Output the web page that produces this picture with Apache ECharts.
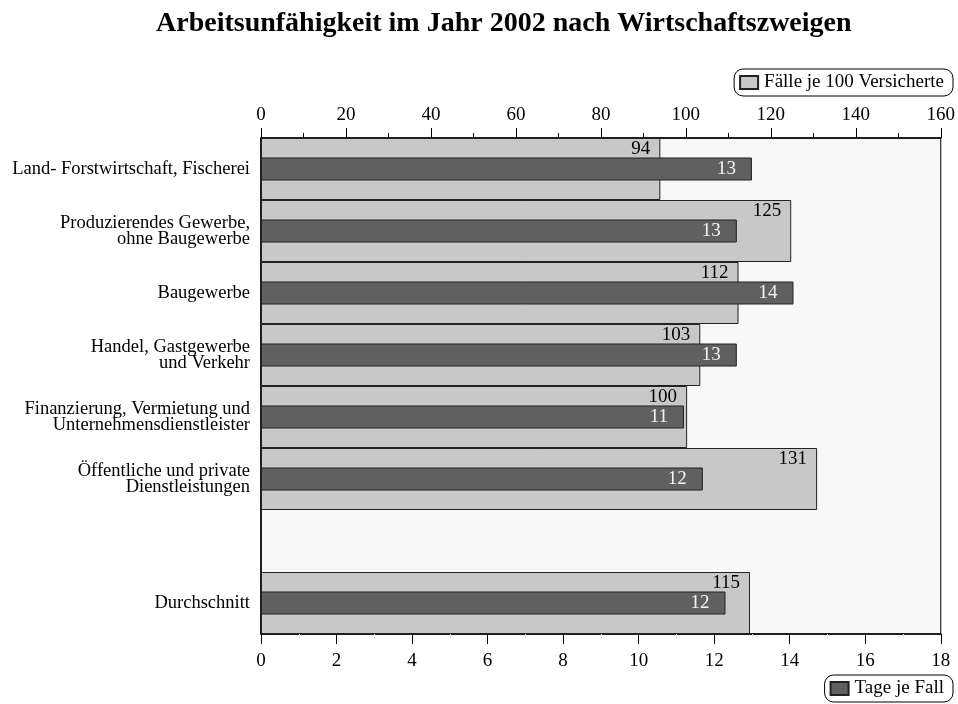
<!DOCTYPE html>
<html>
<head>
<meta charset="utf-8">
<script src="https://cdn.jsdelivr.net/npm/echarts@6/dist/echarts.min.js"></script>
<style>
  html, body { margin: 0; padding: 0; background: #fff; }
  #main { width: 958px; height: 704px; }
</style>
</head>
<body>
<div id="main"></div>
<script>
// Wirtschaftszweige (leere Zeile = Abstand vor Durchschnitt)
var categories = [
    'Land- Forstwirtschaft, Fischerei',
    'Produzierendes Gewerbe,\nohne Baugewerbe',
    'Baugewerbe',
    'Handel, Gastgewerbe\nund Verkehr',
    'Finanzierung, Vermietung und\nUnternehmensdienstleister',
    'Öffentliche und private\nDienstleistungen',
    '',
    'Durchschnitt'
];
// Fälle je 100 Versicherte (obere Achse)
var faelle = [94.0, 124.8, 112.4, 103.4, 100.3, 130.9, null, 115.1];
// Tage je Fall (untere Achse)
var tage = [13.0, 12.6, 14.1, 12.6, 11.2, 11.7, null, 12.3];

var topTicks = { min: 0, max: 160, interval: 20 };
var bottomTicks = { min: 0, max: 18, interval: 2 };

var fontFam = '"Liberation Serif", "DejaVu Serif", serif';

function legendBox(name, top) {
    return {
        data: [name],
        right: 5,
        top: top,
        icon: 'rect',
        itemWidth: 18,
        itemHeight: 13,
        itemGap: 5,
        padding: [4, 9, 4, 5],
        borderColor: '#000',
        borderWidth: 1,
        borderRadius: 9,
        textStyle: { fontFamily: fontFam, fontSize: 19, color: '#000', padding: [0, 0, 0, 1] },
        selectedMode: false
    };
}

var option = {
    backgroundColor: '#fff',
    textStyle: { fontFamily: fontFam },
    title: {
        text: 'Arbeitsunfähigkeit im Jahr 2002 nach Wirtschaftszweigen',
        left: 151,
        top: 5,
        textStyle: { fontFamily: fontFam, fontSize: 28, fontWeight: 'bold', color: '#000' }
    },
    legend: [
        legendBox('Fälle je 100 Versicherte', 69),
        legendBox('Tage je Fall', 675)
    ],
    grid: {
        left: 261,
        right: 16,
        top: 138,
        bottom: 70,
        show: true,
        backgroundColor: '#f8f8f8',
        borderColor: '#000',
        borderWidth: 1
    },
    xAxis: [
        {
            type: 'value',
            position: 'top',
            min: topTicks.min,
            max: topTicks.max,
            interval: topTicks.interval,
            axisLine: { show: true, lineStyle: { color: '#000', width: 1.5 } },
            axisTick: { show: true, length: 10, lineStyle: { color: '#000' } },
            minorTick: { show: true, splitNumber: 2, length: 5, lineStyle: { color: '#000' } },
            axisLabel: { fontSize: 19, color: '#000', margin: 13 },
            splitLine: { show: false }
        },
        {
            type: 'value',
            position: 'bottom',
            min: bottomTicks.min,
            max: bottomTicks.max,
            interval: bottomTicks.interval,
            axisLine: { show: true, lineStyle: { color: '#000', width: 1.5 } },
            axisTick: { show: true, length: 10, lineStyle: { color: '#000' } },
            minorTick: { show: true, splitNumber: 2, length: 4, lineStyle: { color: '#e4e4e4' } },
            axisLabel: { fontSize: 19, color: '#000', margin: 18 },
            splitLine: { show: false }
        }
    ],
    yAxis: [
        {
            type: 'category',
            data: categories,
            inverse: true,
            axisLine: { show: true, lineStyle: { color: '#000', width: 1.5 } },
            axisTick: { show: false },
            axisLabel: { fontSize: 18.5, color: '#000', margin: 11, lineHeight: 16, align: 'right' }
        },
        {
            type: 'category',
            data: categories,
            inverse: true,
            show: false
        }
    ],
    series: [
        {
            name: 'Fälle je 100 Versicherte',
            type: 'bar',
            xAxisIndex: 0,
            yAxisIndex: 0,
            barWidth: '100%',
            data: faelle,
            itemStyle: { color: '#c8c8c8', borderColor: '#222', borderWidth: 1 },
            label: {
                show: true,
                position: 'insideTopRight',
                distance: 2,
                offset: [-8, 0],
                fontSize: 19,
                color: '#000',
                formatter: function (p) { return Math.round(p.value); }
            }
        },
        {
            name: 'Tage je Fall',
            type: 'bar',
            xAxisIndex: 1,
            yAxisIndex: 1,
            barWidth: 23,
            data: tage,
            itemStyle: { color: '#606060', borderColor: '#222', borderWidth: 1 },
            label: {
                show: true,
                position: 'insideRight',
                distance: 16,
                fontSize: 19,
                color: '#f4f4f4',
                formatter: function (p) { return Math.round(p.value); }
            }
        }
    ]
};

var myChart = echarts.init(document.getElementById('main'));
myChart.setOption(option);
</script>
</body>
</html>
